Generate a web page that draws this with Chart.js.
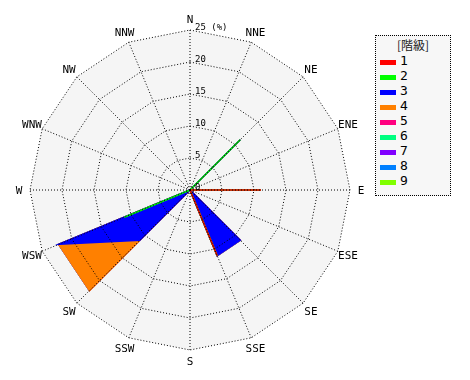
<!DOCTYPE html>
<html>
<head>
<meta charset="utf-8">
<script src="https://cdn.jsdelivr.net/npm/chart.js@4.4.1/dist/chart.umd.min.js"></script>
<style>
html, body { margin: 0; padding: 0; background: #fff; }
#wrap { position: relative; width: 470px; height: 380px; }
#legend {
    position: absolute; left: 375px; top: 35px; width: 76px; height: 161px;
    border: 1px dotted #000; background: #f7f7f7; box-sizing: border-box;
}
#legend .title {
    position: absolute; left: 0; width: 74px; top: 0px; text-align: center;
    font: 12px 'Noto Sans CJK JP', sans-serif; color: #222;
}
#legend .item { position: absolute; left: 4px; height: 12px; }
#legend .bar { position: absolute; left: 0; top: 4px; width: 16px; height: 5px; }
#legend .txt {
    position: absolute; left: 20px; top: -3px;
    font: 13px 'DejaVu Sans Mono', monospace; color: #000;
}
</style>
</head>
<body>
<div id="wrap">
    <canvas id="rose" width="470" height="380"></canvas>
    <div id="legend"><div class="title">[階級]</div></div>
</div>
<script>
// --- Dados ---
const directions = ['N', 'NNE', 'NE', 'ENE', 'E', 'ESE', 'SE', 'SSE', 'S', 'SSW', 'SW', 'WSW', 'W', 'WNW', 'NW', 'NNW'];
const classLabels = ['1', '2', '3', '4', '5', '6', '7', '8', '9'];
const classColors = ['#ff0000', '#00ff00', '#0000ff', '#ff8000', '#ff0080', '#00ff80', '#8000ff', '#0080ff', '#80ff00'];

//                N  NNE   NE  ENE     E  ESE    SE   SSE  S SSW    SW   WSW  W WNW NW NNW
const class1 = [  0,   0,    0,  0, 11.1,   0,    0, 11.1, 0,  0,    0,    0, 0,  0, 0,  0];
const class2 = [  0,   0, 11.1,  0,    0,   0,    0,    0, 0,  0,    0, 11.1, 0,  0, 0,  0];
const class3 = [  0,   0,    0,  0,    0,   0, 11.1,    0, 0,  0, 11.1, 11.1, 0,  0, 0,  0];
const class4 = [  0,   0,    0,  0,    0,   0,    0,    0, 0,  0, 11.1,    0, 0,  0, 0,  0];
const class5 = [  0,   0,    0,  0,    0,   0,    0,    0, 0,  0,    0,    0, 0,  0, 0,  0];
const class6 = [  0,   0,    0,  0,    0,   0,    0,    0, 0,  0,    0,    0, 0,  0, 0,  0];
const class7 = [  0,   0,    0,  0,    0,   0,    0,    0, 0,  0,    0,    0, 0,  0, 0,  0];
const class8 = [  0,   0,    0,  0,    0,   0,    0,    0, 0,  0,    0,    0, 0,  0, 0,  0];
const class9 = [  0,   0,    0,  0,    0,   0,    0,    0, 0,  0,    0,    0, 0,  0, 0,  0];

const tickValues = [0, 5, 10, 15, 20, 25];
const tickLabels = ['0', '5', '10', '15', '20', '25 (%)'];

// --- Empilhamento (cada classe soma sobre as anteriores) ---
const classValues = [class1, class2, class3, class4, class5, class6, class7, class8, class9];
let running = directions.map(() => 0);
const datasets = classValues.map((vals, k) => {
    running = running.map((s, i) => s + vals[i]);
    return {
        label: classLabels[k],
        data: running.slice(),
        backgroundColor: classColors[k],
        borderColor: classColors[k],
        borderWidth: 1.5,
        pointRadius: 0,
        pointHoverRadius: 0,
        fill: 'origin'
    };
});

// --- Fundo cinza, rótulos de direção e de escala ---
const roseDecor = {
    id: 'roseDecor',
    beforeDatasetsDraw(chart) {
        const r = chart.scales.r;
        const ctx = chart.ctx;
        ctx.save();
        ctx.beginPath();
        directions.forEach((d, i) => {
            const p = r.getPointPosition(i, r.drawingArea);
            if (i === 0) ctx.moveTo(p.x, p.y); else ctx.lineTo(p.x, p.y);
        });
        ctx.closePath();
        ctx.fillStyle = '#f5f5f5';
        ctx.fill();
        ctx.restore();
    },
    afterDraw(chart) {
        const r = chart.scales.r;
        const ctx = chart.ctx;
        ctx.save();
        ctx.fillStyle = '#000';
        ctx.font = "11px 'DejaVu Sans Mono', monospace";
        ctx.textAlign = 'center';
        ctx.textBaseline = 'middle';
        directions.forEach((d, i) => {
            const p = r.getPointPosition(i, r.drawingArea + 11);
            ctx.fillText(d, p.x, p.y + 1);
        });
        ctx.font = "9px 'DejaVu Sans Mono', monospace";
        ctx.textAlign = 'left';
        ctx.textBaseline = 'alphabetic';
        tickValues.forEach((v, i) => {
            const y = r.yCenter - r.getDistanceFromCenterForValue(v);
            ctx.fillText(tickLabels[i], r.xCenter + 5, y);
        });
        ctx.restore();
    }
};

new Chart(document.getElementById('rose'), {
    type: 'radar',
    data: { labels: directions, datasets: datasets },
    options: {
        responsive: false,
        animation: false,
        devicePixelRatio: 1,
        layout: { padding: { left: 30, top: 30, right: 120, bottom: 30 } },
        elements: { line: { tension: 0 } },
        plugins: { legend: { display: false }, tooltip: { enabled: false } },
        scales: {
            r: {
                min: 0,
                max: 25,
                ticks: { display: false, stepSize: 5 },
                pointLabels: { display: false },
                grid: { color: '#000', lineWidth: 1, z: 1 },
                border: { dash: [1, 2] },
                angleLines: { color: '#000', lineWidth: 1, borderDash: [1, 2] }
            }
        }
    },
    plugins: [roseDecor]
});

// --- Legenda ---
const legendBox = document.getElementById('legend');
classLabels.forEach((lab, k) => {
    const item = document.createElement('div');
    item.className = 'item';
    item.style.top = (20 + 15 * k) + 'px';
    item.innerHTML = `<div class="bar" style="background:${classColors[k]}"></div><div class="txt">${lab}</div>`;
    legendBox.appendChild(item);
});
</script>
</body>
</html>
